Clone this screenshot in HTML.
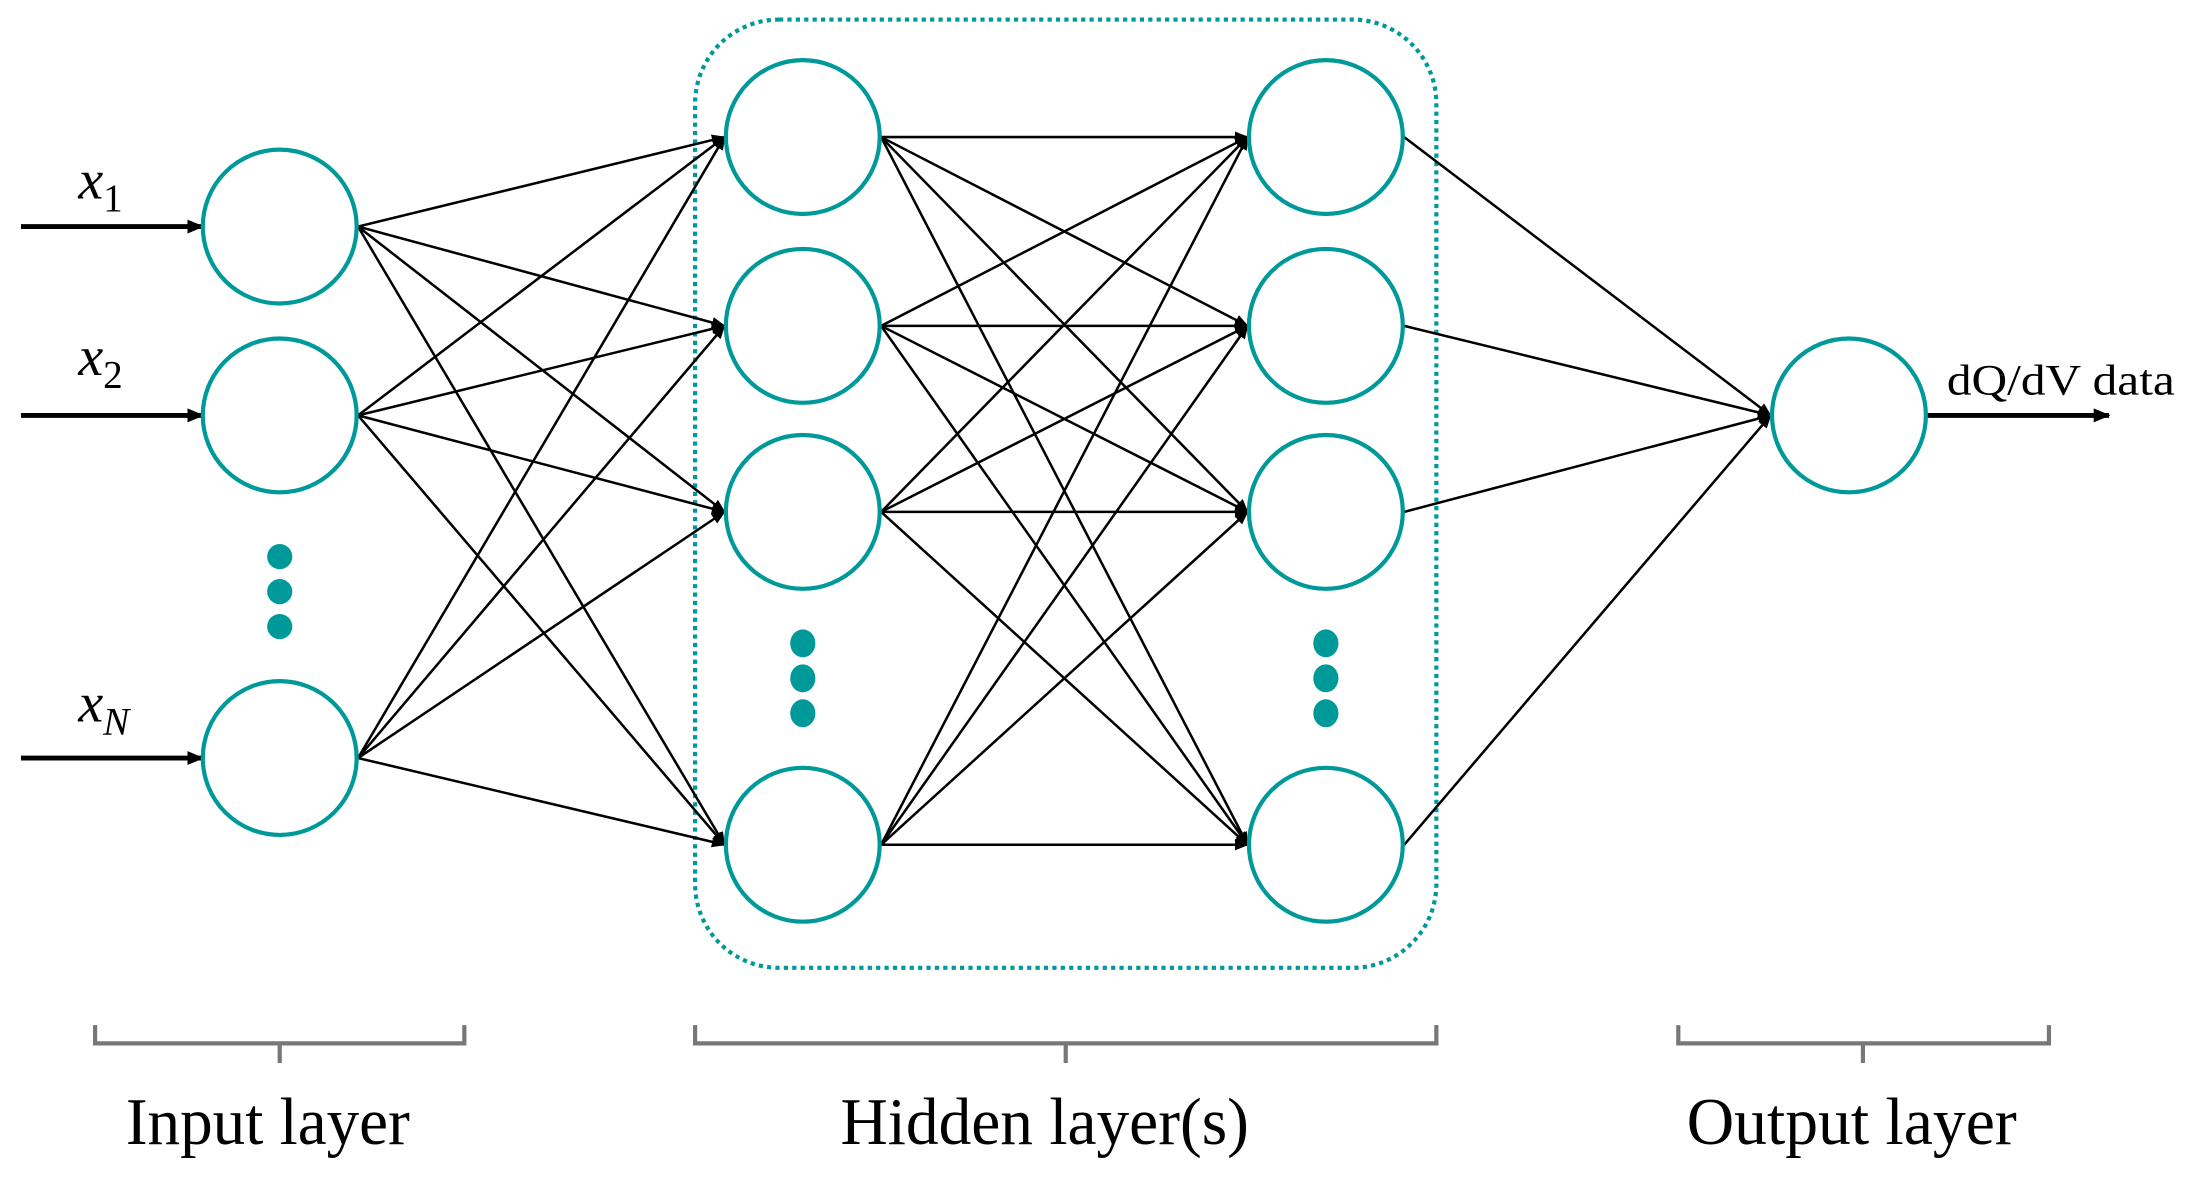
<!DOCTYPE html>
<html><head><meta charset="utf-8"><style>
html,body{margin:0;padding:0;background:#fff;}
svg{display:block;}
</style></head><body>
<svg width="2193" height="1187" viewBox="0 0 1568 848.7" xmlns="http://www.w3.org/2000/svg">
<defs>
<marker id="a" markerWidth="10" markerHeight="8" refX="9" refY="4" orient="auto" markerUnits="userSpaceOnUse">
<path d="M0,0 L10,4 L0,8 z" fill="#000"/>
</marker>
<marker id="b" markerWidth="12" markerHeight="10" refX="11" refY="5" orient="auto" markerUnits="userSpaceOnUse">
<path d="M0,0 L12,5 L0,10 z" fill="#000"/>
</marker>
</defs>
<rect x="497" y="14" width="530" height="678" rx="60" fill="none" stroke="#00999a" stroke-width="3" stroke-dasharray="3,3"/>
<g stroke="#000" stroke-width="1.8" fill="none" marker-end="url(#a)">
<line x1="256" y1="162" x2="518" y2="98"/><line x1="256" y1="162" x2="518" y2="233"/><line x1="256" y1="162" x2="518" y2="366"/><line x1="256" y1="162" x2="518" y2="604"/>
<line x1="256" y1="297" x2="518" y2="98"/><line x1="256" y1="297" x2="518" y2="233"/><line x1="256" y1="297" x2="518" y2="366"/><line x1="256" y1="297" x2="518" y2="604"/>
<line x1="256" y1="542" x2="518" y2="98"/><line x1="256" y1="542" x2="518" y2="233"/><line x1="256" y1="542" x2="518" y2="366"/><line x1="256" y1="542" x2="518" y2="604"/>
<line x1="630" y1="98" x2="892" y2="98"/><line x1="630" y1="98" x2="892" y2="233"/><line x1="630" y1="98" x2="892" y2="366"/><line x1="630" y1="98" x2="892" y2="604"/>
<line x1="630" y1="233" x2="892" y2="98"/><line x1="630" y1="233" x2="892" y2="233"/><line x1="630" y1="233" x2="892" y2="366"/><line x1="630" y1="233" x2="892" y2="604"/>
<line x1="630" y1="366" x2="892" y2="98"/><line x1="630" y1="366" x2="892" y2="233"/><line x1="630" y1="366" x2="892" y2="366"/><line x1="630" y1="366" x2="892" y2="604"/>
<line x1="630" y1="604" x2="892" y2="98"/><line x1="630" y1="604" x2="892" y2="233"/><line x1="630" y1="604" x2="892" y2="366"/><line x1="630" y1="604" x2="892" y2="604"/>
<line x1="1004" y1="98" x2="1266" y2="297"/><line x1="1004" y1="233" x2="1266" y2="297"/><line x1="1004" y1="366" x2="1266" y2="297"/><line x1="1004" y1="604" x2="1266" y2="297"/>
</g>
<g stroke="#000" stroke-width="3.5" marker-end="url(#b)">
<line x1="15" y1="162" x2="145" y2="162"/>
<line x1="15" y1="297" x2="145" y2="297"/>
<line x1="15" y1="542" x2="145" y2="542"/>
<line x1="1378" y1="297" x2="1508" y2="297"/>
</g>
<g fill="#fff" stroke="#00999a" stroke-width="3">
<circle cx="200" cy="162" r="55"/><circle cx="200" cy="297" r="55"/><circle cx="200" cy="542" r="55"/>
<circle cx="574" cy="98" r="55"/><circle cx="574" cy="233" r="55"/><circle cx="574" cy="366" r="55"/><circle cx="574" cy="604" r="55"/>
<circle cx="948" cy="98" r="55"/><circle cx="948" cy="233" r="55"/><circle cx="948" cy="366" r="55"/><circle cx="948" cy="604" r="55"/>
<circle cx="1322" cy="297" r="55"/>
</g>
<g fill="#00999a">
<ellipse cx="200" cy="398" rx="9" ry="9"/><ellipse cx="200" cy="423" rx="9" ry="9"/><ellipse cx="200" cy="448" rx="9" ry="9"/>
<ellipse cx="574" cy="460" rx="9" ry="10"/><ellipse cx="574" cy="485" rx="9" ry="10"/><ellipse cx="574" cy="510" rx="9" ry="10"/>
<ellipse cx="948" cy="460" rx="9" ry="10"/><ellipse cx="948" cy="485" rx="9" ry="10"/><ellipse cx="948" cy="510" rx="9" ry="10"/>
</g>
<g font-family="Liberation Serif, serif" font-style="italic" font-size="40" fill="#000">
<text x="56" y="142">x<tspan font-size="28" font-style="normal" dy="9">1</tspan></text>
<text x="56" y="268">x<tspan font-size="28" font-style="normal" dy="9">2</tspan></text>
<text x="56" y="516">x<tspan font-size="28" dy="9">N</tspan></text>
</g>
<text x="1392" y="282" font-family="Liberation Serif, serif" font-size="31" textLength="163" lengthAdjust="spacingAndGlyphs" fill="#000">dQ/dV data</text>
<g stroke="#777" stroke-width="3" fill="none">
<path d="M68,733 V746 H332 V733 M200,746 V760"/>
<path d="M497,733 V746 H1027 V733 M762,746 V760"/>
<path d="M1200,733 V746 H1465 V733 M1332,746 V760"/>
</g>
<g font-family="Liberation Serif, serif" font-size="48" fill="#000">
<text x="90" y="818" textLength="203" lengthAdjust="spacingAndGlyphs">Input layer</text>
<text x="601" y="818" textLength="292" lengthAdjust="spacingAndGlyphs">Hidden layer(s)</text>
<text x="1206" y="818" textLength="236" lengthAdjust="spacingAndGlyphs">Output layer</text>
</g>
</svg>
</body></html>
